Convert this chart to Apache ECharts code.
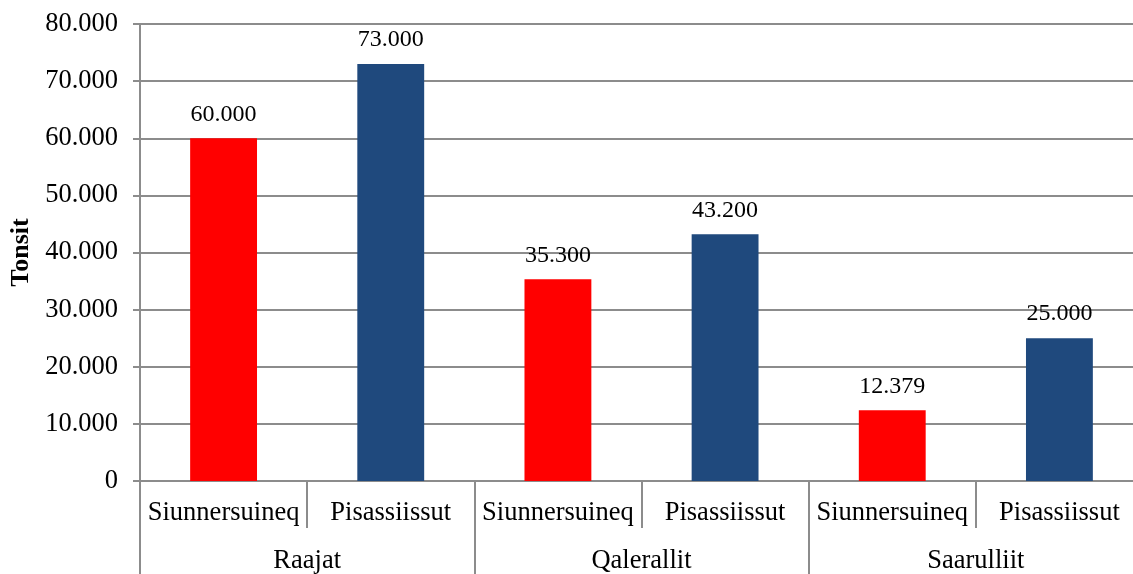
<!DOCTYPE html>
<html>
<head>
<meta charset="utf-8">
<script src="https://cdn.jsdelivr.net/npm/echarts@6/dist/echarts.min.js"></script>
<style>
html,body{margin:0;padding:0;background:#fff;}
#chart{width:1133px;height:574px;}
</style>
</head>
<body>
<div id="chart"></div>
<script>
const groups = ['Raajat', 'Qalerallit', 'Saarulliit'];
const subCategories = ['Siunnersuineq', 'Pisassiissut'];
const siunnersuineq = [60000, 35300, 12379];
const pisassiissut = [73000, 43200, 25000];
const yTicks = [0, 10000, 20000, 30000, 40000, 50000, 60000, 70000, 80000];
const subColors = ['#FF0000', '#1F497D'];

function fmt(v) {
  if (v === 0) return '0';
  return String(Math.round(v)).replace(/\B(?=(\d{3})+(?!\d))/g, '.');
}

const cats = [];
const data = [];
groups.forEach((g, i) => {
  const vals = [siunnersuineq[i], pisassiissut[i]];
  subCategories.forEach((s, j) => {
    cats.push(s);
    data.push({ value: vals[j], itemStyle: { color: subColors[j] } });
  });
});

const font = '"Liberation Serif", "Times New Roman", serif';
const gray = '#8c8c8c';
const axisFont = 26.5;

const chart = echarts.init(document.getElementById('chart'));
chart.setOption({
  animation: false,
  textStyle: { fontFamily: font },
  grid: { left: 140, top: 24, bottom: 93, width: 1003, containLabel: false, outerBoundsMode: 'none' },
  xAxis: [
    {
      type: 'category',
      data: cats,
      position: 'bottom',
      axisLine: { show: true, lineStyle: { color: gray, width: 2 } },
      axisTick: { show: true, interval: 0, length: 47, lineStyle: { color: gray, width: 2 } },
      axisLabel: { interval: 0, margin: 19, color: '#000', fontFamily: font, fontSize: axisFont }
    },
    {
      type: 'category',
      data: groups,
      position: 'bottom',
      axisLine: { show: false },
      axisTick: { show: true, interval: 0, length: 100, lineStyle: { color: gray, width: 2 } },
      axisLabel: { interval: 0, margin: 67, color: '#000', fontFamily: font, fontSize: axisFont }
    }
  ],
  yAxis: {
    type: 'value',
    min: yTicks[0],
    max: yTicks[yTicks.length - 1],
    interval: yTicks[1] - yTicks[0],
    name: 'Tonsit',
    nameLocation: 'middle',
    nameRotate: 90,
    nameGap: 101,
    nameTextStyle: { fontFamily: font, fontSize: 26, fontWeight: 'bold', color: '#000' },
    axisLine: { show: true, lineStyle: { color: gray, width: 2 } },
    axisTick: { show: true, length: 7, lineStyle: { color: gray, width: 2 } },
    axisLabel: { margin: 22, color: '#000', fontFamily: font, fontSize: axisFont, formatter: fmt },
    splitLine: { show: true, lineStyle: { color: gray, width: 2 } }
  },
  series: [{
    type: 'bar',
    xAxisIndex: 0,
    barWidth: '40%',
    data: data,
    label: {
      show: true,
      position: 'top',
      distance: 12,
      color: '#000',
      fontFamily: font,
      fontSize: 24,
      formatter: p => fmt(p.value)
    }
  }]
});
</script>
</body>
</html>
